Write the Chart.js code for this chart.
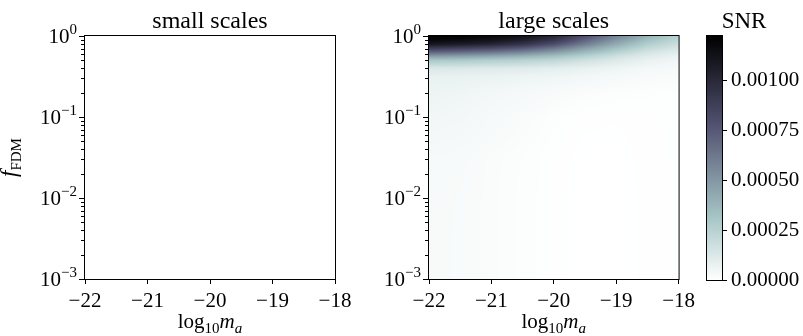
<!DOCTYPE html>
<html>
<head>
<meta charset="utf-8">
<script src="https://cdn.jsdelivr.net/npm/chart.js@4.4.1/dist/chart.umd.min.js"></script>
<style>
  body { margin: 0; background: #fff; }
  #figure { position: relative; width: 803px; height: 336px; }
  canvas { position: absolute; top: 0; }
</style>
</head>
<body>
<div id="figure">
  <canvas id="smallScales" width="380" height="336" style="left:0"></canvas>
  <canvas id="largeScales" width="320" height="336" style="left:380px"></canvas>
  <canvas id="colorBar" width="103" height="336" style="left:700px"></canvas>
</div>
<script>
// grid nodes: log10 of the axion mass and log10 of the FDM fraction
const massLog = [-22, -21.5, -21, -20.5, -20, -19.5, -19, -18.5, -18];
const fdmLog = [0, -0.05, -0.1, -0.15, -0.2, -0.25, -0.3, -0.4, -0.5, -0.7, -1, -1.5, -2, -2.5, -3];

// SNR on large scales, one row per fdmLog node, in units of 1e-5
const snrLarge = [
  [122, 121, 118, 113, 102, 80, 58, 40, 26],
  [118, 116, 112, 105, 92, 70, 50, 33, 22],
  [110, 107, 102, 94, 80, 60, 42, 27, 18],
  [90, 87, 82, 75, 63, 47, 33, 21, 14],
  [70, 67, 63, 57, 48, 36, 25, 15, 10],
  [48, 46, 43, 39, 33, 25, 17, 10.5, 7],
  [30, 29, 27, 25, 22, 17, 12, 7.5, 5],
  [12.5, 12.5, 11.5, 11, 9.5, 7.8, 6, 4, 3],
  [8, 7.5, 7, 6.3, 5.7, 4.5, 3.3, 2.4, 1.8],
  [6.1, 5.5, 4.3, 3.4, 2.4, 1.6, 1.1, 0.9, 0.7],
  [4.9, 4.3, 3.0, 2.0, 1.0, 0.4, 0.3, 0.5, 0.6],
  [3.0, 2.7, 1.8, 1.2, 0.5, 0.1, 0.1, 0.4, 0.6],
  [2.7, 2.4, 1.7, 1.1, 0.5, 0, 0, 0.4, 0.6],
  [2.6, 2.4, 1.7, 1.1, 0.5, 0, 0, 0.4, 0.6],
  [2.6, 2.4, 1.7, 1.1, 0.5, 0, 0, 0.4, 0.6],
];
const SNR_UNIT = 1e-5;

const massTicks = [-22, -21, -20, -19, -18];
const fdmDecades = [-3, -2, -1, 0];
const snrTicks = [0, 0.00025, 0.0005, 0.00075, 0.001];

const FONT = "'Liberation Serif', 'Times New Roman', serif";
const snrMax = Math.max(...snrLarge.flat()) * SNR_UNIT;

// matplotlib "bone" segments, used reversed
const boneSeg = {
  r: [[0, 0], [0.746032, 0.652778], [1, 1]],
  g: [[0, 0], [0.365079, 0.319444], [0.746032, 0.777778], [1, 1]],
  b: [[0, 0], [0.365079, 0.444444], [1, 1]],
};

function segValue(pts, s) {
  for (let k = 1; k < pts.length; k++) {
    if (s <= pts[k][0]) {
      const [x0, y0] = pts[k - 1];
      const [x1, y1] = pts[k];
      return y0 + (y1 - y0) * (s - x0) / (x1 - x0);
    }
  }
  return pts[pts.length - 1][1];
}

function boneR(t) {
  const s = 1 - Math.min(1, Math.max(0, t));
  return ["r", "g", "b"].map((c) => Math.round(255 * segValue(boneSeg[c], s)));
}

// draws text pieces (font, text, baseline shift) centred on x
function drawMath(ctx, parts, x, y) {
  let total = 0;
  for (const p of parts) {
    ctx.font = p.font;
    p.w = ctx.measureText(p.text).width;
    total += p.w;
  }
  let cx = x - total / 2;
  ctx.textAlign = "left";
  ctx.textBaseline = "alphabetic";
  for (const p of parts) {
    ctx.font = p.font;
    ctx.fillText(p.text, cx, y + (p.dy || 0));
    cx += p.w;
  }
}

function makeHeatmap(grid) {
  return {
    id: "heatmap",
    beforeDatasetsDraw(chart) {
      const { ctx, chartArea: a, scales: { x, y } } = chart;
      const w = Math.round(a.right - a.left);
      const h = Math.round(a.bottom - a.top);
      const img = ctx.createImageData(w, h);
      for (let py = 0; py < h; py++) {
        const lf = Math.log10(y.getValueForPixel(a.top + py + 0.5));
        let j = 0;
        while (j < fdmLog.length - 2 && lf < fdmLog[j + 1]) j++;
        const v = Math.min(1, Math.max(0, (fdmLog[j] - lf) / (fdmLog[j] - fdmLog[j + 1])));
        for (let px = 0; px < w; px++) {
          const xv = x.getValueForPixel(a.left + px + 0.5);
          let i = 0;
          while (i < massLog.length - 2 && xv > massLog[i + 1]) i++;
          const u = Math.min(1, Math.max(0, (xv - massLog[i]) / (massLog[i + 1] - massLog[i])));
          const top = (1 - u) * grid[j][i] + u * grid[j][i + 1];
          const bot = (1 - u) * grid[j + 1][i] + u * grid[j + 1][i + 1];
          const val = ((1 - v) * top + v * bot) * SNR_UNIT;
          const [r, g, b] = boneR(val / snrMax);
          const k = (py * w + px) * 4;
          img.data[k] = r;
          img.data[k + 1] = g;
          img.data[k + 2] = b;
          img.data[k + 3] = 255;
        }
      }
      ctx.putImageData(img, a.left, a.top);
    },
  };
}

function makeDecor(title, withYLabel) {
  return {
    id: "panelDecor",
    afterDraw(chart) {
      const { ctx, chartArea: a, scales: { y } } = chart;
      ctx.save();
      ctx.strokeStyle = "#000";
      ctx.fillStyle = "#000";
      ctx.lineWidth = 1;
      ctx.strokeRect(a.left - 0.5, a.top - 0.5, a.right - a.left + 1, a.bottom - a.top + 1);

      // log ticks on the f_FDM axis
      ctx.beginPath();
      for (const e of fdmDecades) {
        const yp = Math.round(y.getPixelForValue(10 ** e)) + 0.5;
        ctx.moveTo(a.left - 1, yp);
        ctx.lineTo(a.left - 6, yp);
        if (e < 0) {
          for (let k = 2; k <= 9; k++) {
            const ym = Math.round(y.getPixelForValue(k * 10 ** e)) + 0.5;
            ctx.moveTo(a.left - 1, ym);
            ctx.lineTo(a.left - 4, ym);
          }
        }
      }
      ctx.stroke();

      ctx.textAlign = "right";
      ctx.textBaseline = "alphabetic";
      for (const e of fdmDecades) {
        const yp = y.getPixelForValue(10 ** e);
        const sup = e === 0 ? "0" : "−" + -e;
        ctx.font = `15px ${FONT}`;
        const ws = ctx.measureText(sup).width;
        const xr = a.left - 8;
        ctx.fillText(sup, xr, yp - 2);
        ctx.font = `21px ${FONT}`;
        ctx.fillText("10", xr - ws, yp + 7);
      }

      ctx.textAlign = "center";
      ctx.font = `24px ${FONT}`;
      ctx.fillText(title, (a.left + a.right) / 2, 28);

      drawMath(ctx, [
        { text: "log", font: `21px ${FONT}` },
        { text: "10", font: `15px ${FONT}`, dy: 5 },
        { text: "m", font: `italic 21px ${FONT}` },
        { text: "a", font: `italic 15px ${FONT}`, dy: 5 },
      ], (a.left + a.right) / 2, 328);

      if (withYLabel) {
        ctx.translate(16, (a.top + a.bottom) / 2);
        ctx.rotate(-Math.PI / 2);
        drawMath(ctx, [
          { text: "f", font: `italic 23px ${FONT}` },
          { text: "FDM", font: `15px ${FONT}`, dy: 5 },
        ], 0, 0);
      }
      ctx.restore();
    },
  };
}

function panelConfig(yWidth, padRight, plugins) {
  return {
    type: "scatter",
    data: { datasets: [] },
    options: {
      responsive: false,
      animation: false,
      layout: { padding: { left: 0, top: 36, right: padRight, bottom: 0 } },
      plugins: { legend: { display: false }, tooltip: { enabled: false } },
      scales: {
        x: {
          type: "linear",
          min: massLog[0],
          max: massLog[massLog.length - 1],
          afterBuildTicks: (s) => { s.ticks = massTicks.map((v) => ({ value: v })); },
          afterFit: (s) => { s.height = 57; },
          ticks: {
            callback: (v) => (v < 0 ? "−" + Math.abs(v) : String(v)),
            font: { family: FONT, size: 21 },
            color: "#000",
            padding: 5,
            maxRotation: 0,
          },
          grid: { drawOnChartArea: false, tickLength: 5, color: "#000" },
          border: { display: false },
        },
        y: {
          type: "logarithmic",
          min: 10 ** fdmDecades[0],
          max: 10 ** fdmDecades[fdmDecades.length - 1],
          afterFit: (s) => { s.width = yWidth; },
          ticks: { display: false },
          grid: { display: false },
          border: { display: false },
        },
      },
    },
    plugins,
  };
}

new Chart(document.getElementById("smallScales"),
  panelConfig(85, 45, [makeDecor("small scales", true)]));

new Chart(document.getElementById("largeScales"),
  panelConfig(49, 21, [makeHeatmap(snrLarge), makeDecor("large scales", false)]));

const colorbarPlugin = {
  id: "colorbar",
  beforeDatasetsDraw(chart) {
    const { ctx, chartArea: a, scales: { y } } = chart;
    const grad = ctx.createLinearGradient(0, y.getPixelForValue(0), 0, y.getPixelForValue(snrMax));
    for (let i = 0; i <= 40; i++) {
      const [r, g, b] = boneR(i / 40);
      grad.addColorStop(i / 40, `rgb(${r},${g},${b})`);
    }
    ctx.fillStyle = grad;
    ctx.fillRect(a.left, a.top, a.right - a.left, a.bottom - a.top);
  },
  afterDraw(chart) {
    const { ctx, chartArea: a } = chart;
    ctx.save();
    ctx.strokeStyle = "#000";
    ctx.lineWidth = 1;
    ctx.strokeRect(a.left - 0.5, a.top - 0.5, a.right - a.left + 1, a.bottom - a.top + 1);
    ctx.fillStyle = "#000";
    ctx.font = `23px ${FONT}`;
    ctx.textAlign = "center";
    ctx.fillText("SNR", 44, 28);
    ctx.restore();
  },
};

new Chart(document.getElementById("colorBar"), {
  type: "scatter",
  data: { datasets: [] },
  options: {
    responsive: false,
    animation: false,
    layout: { padding: { left: 7, top: 36, right: 0, bottom: 56 } },
    plugins: { legend: { display: false }, tooltip: { enabled: false } },
    scales: {
      x: { display: false, min: 0, max: 1 },
      y: {
        type: "linear",
        position: "right",
        min: 0,
        max: snrMax,
        afterBuildTicks: (s) => { s.ticks = snrTicks.map((v) => ({ value: v })); },
        afterFit: (s) => { s.width = 81; },
        ticks: {
          callback: (v) => v.toFixed(5),
          font: { family: FONT, size: 21 },
          color: "#000",
          padding: 4,
        },
        grid: { drawOnChartArea: false, tickLength: 5, color: "#000" },
        border: { display: false },
      },
    },
  },
  plugins: [colorbarPlugin],
});
</script>
</body>
</html>
